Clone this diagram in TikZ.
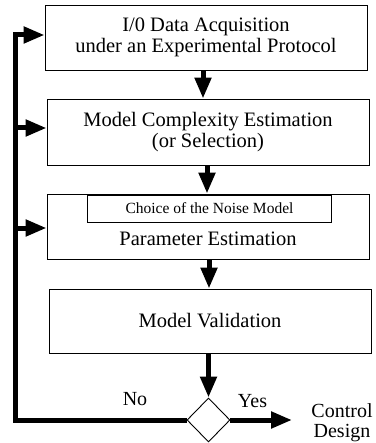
\documentclass[tikz,border=0pt]{standalone}
\usepackage{fontspec}
\setmainfont{Liberation Serif}
\usetikzlibrary{arrows.meta,shapes.geometric,calc}
\begin{document}
\begin{tikzpicture}[x=1pt,y=-1pt,
  box/.style={draw,line width=0.9pt,minimum width=322pt,inner sep=0pt,align=center,
    font=\fontsize{20.5}{21.5}\selectfont},
  smallbox/.style={draw,line width=0.9pt,minimum width=244pt,minimum height=27pt,inner sep=0pt,
    font=\fontsize{15.5}{16}\selectfont},
  lbl/.style={font=\fontsize{20}{21}\selectfont,inner sep=0pt,anchor=base},
  flow/.style={line width=5pt,line join=miter,-{Triangle[length=21pt,width=16pt]}}]
\useasboundingbox (0,0) rectangle (375,443);
\node[box,minimum height=65pt] (b1) at (206,37.5) {I/0 Data Acquisition\\under an Experimental Protocol};
\node[box,minimum height=66pt] (b2) at (208,132) {Model Complexity Estimation\\(or Selection)};
\node[box,minimum height=65pt] (b3) at (208,226.5) {};
\node[smallbox] (nm) at (209.5,208.5) {Choice of the Noise Model};
\node[lbl,font=\fontsize{20.5}{21.5}\selectfont] (pe) at (208,245) {Parameter Estimation};
\node[box,minimum height=64pt] (b4) at (210,321) {Model Validation};
\node[draw,line width=0.9pt,shape=diamond,minimum width=43pt,minimum height=44pt,inner sep=0pt] (d) at (208.5,420) {};
\node[lbl] (no) at (135,405) {No};
\node[lbl] (yes) at (252.5,407) {Yes};
\node[lbl] (ctl) at (342,417) {Control};
\node[lbl] (des) at (342,437) {Design};
\coordinate (c1) at (15,420);
\coordinate (c2) at (15,35);
\coordinate (c3) at (15,128);
\coordinate (c4) at (15,228);
\coordinate (ye) at (292,420);
\draw[flow] ([xshift=-3pt]b1.south) -- ([xshift=-3pt]b1.south |- b2.north);
\draw[flow] ([xshift=-1pt]b2.south) -- ([xshift=-1pt]b2.south |- b3.north);
\draw[flow] ([xshift=1pt]b3.south) -- ([xshift=1pt]b3.south |- b4.north);
\draw[flow] (d.north |- b4.south) -- (d.north);
\draw[flow] (d.west) -- (c1) -- (c2) -- (c2 -| b1.west);
\draw[flow] (c3) -- (c3 -| b2.west);
\draw[flow] (c4) -- (c4 -| b3.west);
\draw[flow] (d.east) -- (ye);
\end{tikzpicture}
\end{document}
